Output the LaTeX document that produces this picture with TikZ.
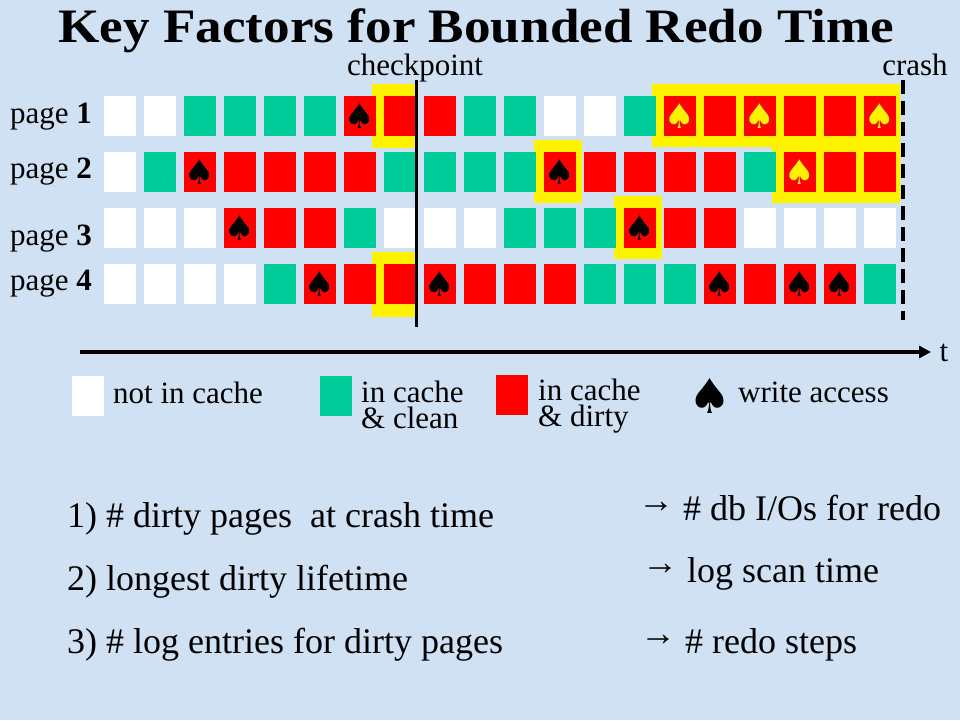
\documentclass[tikz,border=0pt]{standalone}
\usepackage{fontspec}
\setmainfont{Liberation Serif}
\newfontfamily\symfont{DejaVu Sans}
\usetikzlibrary{arrows.meta}
\definecolor{bgblue}{RGB}{208,225,243}
\definecolor{cgreen}{RGB}{0,204,153}
\def\tW{}\def\tG{}\def\tR{}\def\tS{♠}\def\tY{♠}
\newcommand\rarr{\raisebox{8pt}{→}}
\tikzset{
  cell/.style={minimum width=32pt, minimum height=40pt, inner sep=0pt, draw=none},
  cW/.style={fill=white}, cG/.style={fill=cgreen}, cR/.style={fill=red},
  cS/.style={fill=red, font=\symfont\fontsize{34}{34}\selectfont, text=black},
  cY/.style={fill=red, font=\symfont\fontsize{34}{34}\selectfont, text=yellow},
  hl/.style={fill=yellow, draw=none},
  lbl/.style={font=\fontsize{31}{31}\selectfont, inner sep=0pt, anchor=base west},
  lbl2/.style={font=\fontsize{31}{26}\selectfont, inner sep=0pt, anchor=base west, align=left},
  big/.style={font=\fontsize{36}{36}\selectfont, inner sep=0pt, anchor=base west},
}
\begin{document}
\begin{tikzpicture}[x=1pt,y=-1pt]
\fill[bgblue] (0,0) rectangle (960,720);
\useasboundingbox (0,0) rectangle (960,720);
% title
\node[font=\bfseries\fontsize{48}{48}\selectfont, inner sep=0pt, anchor=base] (title) at (476.5,42) {\scalebox{1.107}[1]{Key Factors for Bounded Redo Time}};
% yellow highlights
\fill[hl] (372,84) rectangle (417,148);
\fill[hl] (372,252) rectangle (417,317);
\fill[hl] (534,140) rectangle (582,203);
\fill[hl] (614,196) rectangle (662,259);
\fill[hl] (652,84) -- (900,84) -- (900,203) -- (772,203) -- (772,147) -- (652,147) -- cycle;
% grid
\foreach \r/\row in {1/{W,W,G,G,G,G,S,R,R,G,G,W,W,G,Y,R,Y,R,R,Y},
                     2/{W,G,S,R,R,R,R,G,G,G,G,S,R,R,R,R,G,Y,R,R},
                     3/{W,W,W,S,R,R,G,W,W,W,G,G,G,S,R,R,W,W,W,W},
                     4/{W,W,W,W,G,S,R,R,S,R,R,R,G,G,G,S,R,S,S,G}}{
  \foreach \c [count=\i from 0] in \row {
    \node[cell, c\c] (p\r-\i) at ({120+40*\i},{116+56*(\r-1)}) {\csname t\c\endcsname};
  }
}
% page labels
\node[lbl] (pl1) at (10,123) {page \textbf{1}};
\node[lbl] (pl2) at (10,178) {page \textbf{2}};
\node[lbl] (pl3) at (10,245) {page \textbf{3}};
\node[lbl] (pl4) at (10,290) {page \textbf{4}};
% checkpoint and crash
\coordinate (cpTop) at (416.5,80);
\coordinate (cpBot) at (416.5,327);
\draw[line width=3.5pt] (cpTop) -- (cpBot);
\node[lbl, anchor=base] (cpl) at (415,75) {checkpoint};
\coordinate (crTop) at (903,80);
\coordinate (crBot) at (903,320);
\draw[line width=4pt, dash pattern=on 14pt off 7pt] (crTop) -- (crBot);
\node[lbl, anchor=base] (crl) at (915,75) {crash};
% time axis
\coordinate (axL) at (80,352);
\coordinate (axR) at (931,352);
\draw[line width=4pt, -{Triangle[length=12pt,width=12pt]}] (axL) -- (axR);
\node[lbl, anchor=base] (tl) at (944,361) {t};
% legend
\node[cell, cW] (lgW) at (88,396) {};
\node[lbl] (lgWt) at (113,403) {not in cache};
\node[cell, cG] (lgG) at (336,396) {};
\node[lbl2] (lgGt) at (361,428) {in cache\\\& clean};
\node[cell, cR] (lgR) at (512,395) {};
\node[lbl2] (lgRt) at (538,426) {in cache\\\& dirty};
\node[font=\symfont\fontsize{48}{48}\selectfont, inner sep=0pt] (lgS) at (710,396) {♠};
\node[lbl] (lgSt) at (738,402) {write access};
% factors
\node[big] (f1) at (67,527) {1) \# dirty pages\ \ at crash time};
\node[big] (f2) at (67,590) {2) longest dirty lifetime};
\node[big] (f3) at (67,653) {3) \# log entries for dirty pages};
\node[big] (r1) at (638,520) {\rarr{} \# db I/Os for redo};
\node[big] (r2) at (642,582) {\rarr{} log scan time};
\node[big] (r3) at (640,653) {\rarr{} \# redo steps};
\end{tikzpicture}
\end{document}
